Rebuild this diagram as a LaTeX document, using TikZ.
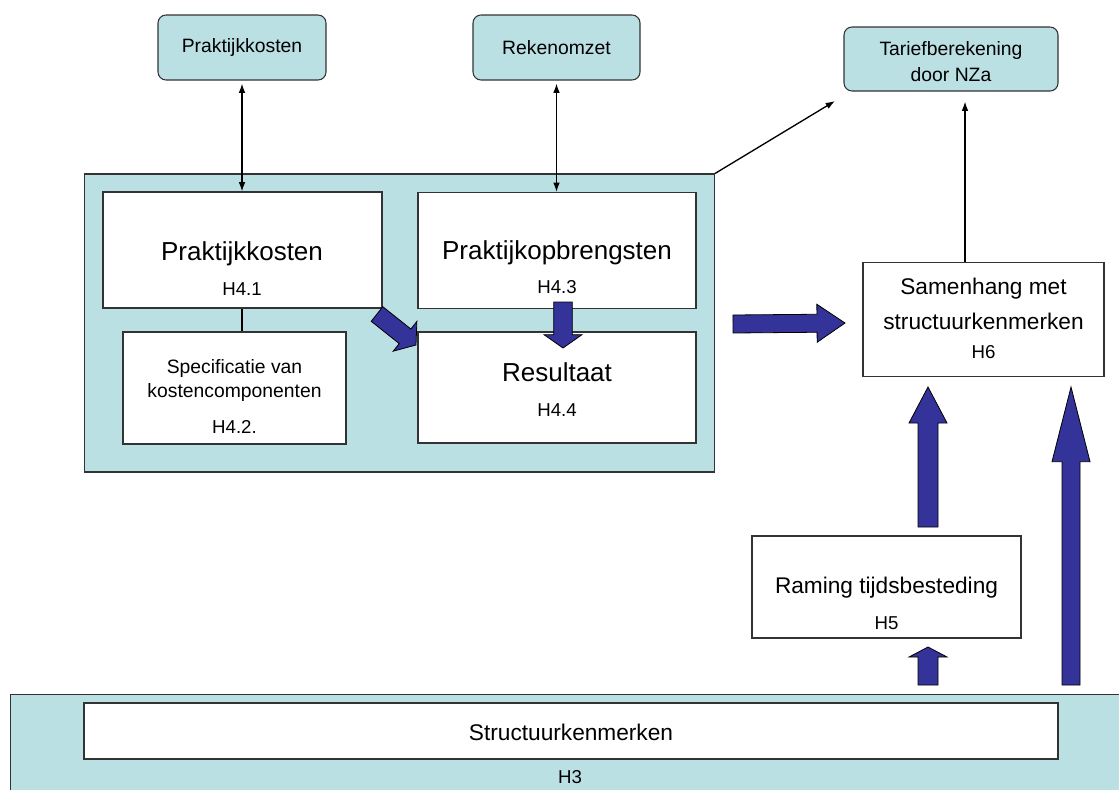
\documentclass[tikz,border=0pt]{standalone}
\usepackage{fontspec}
\setmainfont{Liberation Sans}
\usetikzlibrary{calc,arrows.meta}
\definecolor{teal}{HTML}{BBE0E3}
\definecolor{blk}{HTML}{333399}
\newcommand\fs[1]{\fontsize{#1}{#1}\selectfont}
\newcommand\blockarrow[5]{% tail, tip, shaft half, head half, head length
  \coordinate (ba-h) at ($(#2)!#5!(#1)$);
  \filldraw[blockstyle]
    ($(#1)!#3!90:(#2)$) -- ($(ba-h)!#3!-90:(#1)$) -- ($(ba-h)!#4!-90:(#1)$) -- (#2)
    -- ($(ba-h)!#4!90:(#1)$) -- ($(ba-h)!#3!90:(#1)$) -- ($(#1)!#3!-90:(#2)$) -- cycle;
}
\begin{document}
\begin{tikzpicture}[x=0.75pt,y=-0.75pt,
  tealbox/.style={draw=black!80, line width=0.8pt, fill=teal, inner sep=0pt},
  topbox/.style={tealbox, rounded corners=6pt},
  whitebox/.style={draw=black!80, line width=0.8pt, fill=white, inner sep=0pt},
  txt/.style={inner sep=0pt, align=center},
  conn/.style={line width=1pt, -{Latex[length=7pt,width=5pt]}},
  dconn/.style={line width=1pt, {Latex[length=7pt,width=5pt]}-{Latex[length=7pt,width=5pt]}},
  blockstyle/.style={fill=blk, draw=black, line width=0.6pt, line join=miter}]
\useasboundingbox (0,0) rectangle (1119,789);

% top boxes
\node[topbox, minimum width=168*0.75pt, minimum height=65*0.75pt] (pk) at (242,47.5) {};
\node[txt] (pkt) at (242,47.5) {\fs{14.5}Praktijkkosten};
\node[topbox, minimum width=167*0.75pt, minimum height=65*0.75pt] (rk) at (556.5,47.5) {};
\node[txt] (rkt) at (556.5,47.5) {\fs{14.5}Rekenomzet};
\node[topbox, minimum width=214*0.75pt, minimum height=64*0.75pt] (tb) at (951,59) {};
\node[txt] (tbt1) at (951,50) {\fs{14.5}Tariefberekening};
\node[txt] (tbt2) at (951,75) {\fs{14.5}door NZa};

% big teal box
\node[tealbox, minimum width=630*0.75pt, minimum height=298*0.75pt] (big) at (399.5,323) {};
\node[whitebox, minimum width=279*0.75pt, minimum height=116*0.75pt] (ipk) at (242.5,250) {};
\node[txt] (ipkt) at (242,254) {\fs{19.5}Praktijkkosten};
\node[txt] (ipkh) at (242,289) {\fs{14}H4.1};
\node[whitebox, minimum width=223*0.75pt, minimum height=112*0.75pt] (spec) at (234.5,388) {};
\node[txt] (spect1) at (234.5,368) {\fs{14.5}Specificatie van};
\node[txt] (spect2) at (234.5,392) {\fs{14.5}kostencomponenten};
\node[txt] (spech) at (234.5,427) {\fs{14}H4.2.};
\node[whitebox, minimum width=278*0.75pt, minimum height=116*0.75pt] (pob) at (557,250.5) {};
\node[txt] (pobt) at (557,253) {\fs{19.5}Praktijkopbrengsten};
\node[txt] (pobh) at (557,287) {\fs{14}H4.3};
\node[whitebox, minimum width=278*0.75pt, minimum height=111*0.75pt] (res) at (557,387.5) {};
\node[txt] (rest) at (557,372) {\fs{19.5}Resultaat};
\node[txt] (resh) at (557,410) {\fs{14}H4.4};

% right boxes
\node[whitebox, minimum width=241*0.75pt, minimum height=114*0.75pt] (h6) at (983.5,319.5) {};
\node[txt] (h6t1) at (983.5,289) {\fs{17}Samenhang met};
\node[txt] (h6t2) at (983.5,321) {\fs{17}structuurkenmerken};
\node[txt] (h6h) at (983.5,352) {\fs{14}H6};
\node[whitebox, minimum width=269*0.75pt, minimum height=102*0.75pt] (h5) at (886.5,587) {};
\node[txt] (h5t) at (886.5,588) {\fs{17}Raming tijdsbesteding};
\node[txt] (h5h) at (886.5,623) {\fs{14}H5};

% bottom
\node[tealbox, minimum width=1120*0.75pt, minimum height=110*0.75pt, anchor=north west] (bot) at (10,694) {};
\node[whitebox, minimum width=974*0.75pt, minimum height=56*0.75pt] (st) at (571,731) {};
\node[txt] (stt) at (571,732) {\fs{17}Structuurkenmerken};
\node[txt] (sth) at (570,777) {\fs{14}H3};

% thin connectors
\draw[dconn] ([yshift=-3*0.75pt]pk.south) -- (pk.south |- ipk.north);
\draw[dconn] ([yshift=-3*0.75pt]rk.south) -- (rk.south |- pob.north);
\draw[line width=0.8pt] (242,0 |- ipk.south) -- (242,0 |- spec.north);
\coordinate (dgend) at (835,101);
\draw[conn] (big.north east) -- (dgend);
\coordinate (h6top) at (965,0 |- h6.north);
\draw[conn] (h6top) -- ([yshift=-10*0.75pt]h6top |- tb.south);

% block arrows
\coordinate (a1t) at (733,324); \coordinate (a1p) at (845,323);
\blockarrow{a1t}{a1p}{6.75pt}{14.25pt}{21pt}
\coordinate (a2t) at (928,527); \coordinate (a2p) at (928,387);
\blockarrow{a2t}{a2p}{7.5pt}{14.25pt}{27pt}
\coordinate (a3t) at (1071,685); \coordinate (a3p) at (1071,387);
\blockarrow{a3t}{a3p}{6.75pt}{14.25pt}{56pt}
\coordinate (a4t) at (928,685); \coordinate (a4p) at (928,647);
\blockarrow{a4t}{a4p}{7.5pt}{14.25pt}{7.5pt}
\coordinate (a5t) at (563,302); \coordinate (a5p) at (563,348);
\blockarrow{a5t}{a5p}{7pt}{14.25pt}{10pt}
\coordinate (a6t) at (377,314); \coordinate (a6p) at (416,345);
\blockarrow{a6t}{a6p}{7pt}{14.25pt}{10.5pt}
\end{tikzpicture}
\end{document}
